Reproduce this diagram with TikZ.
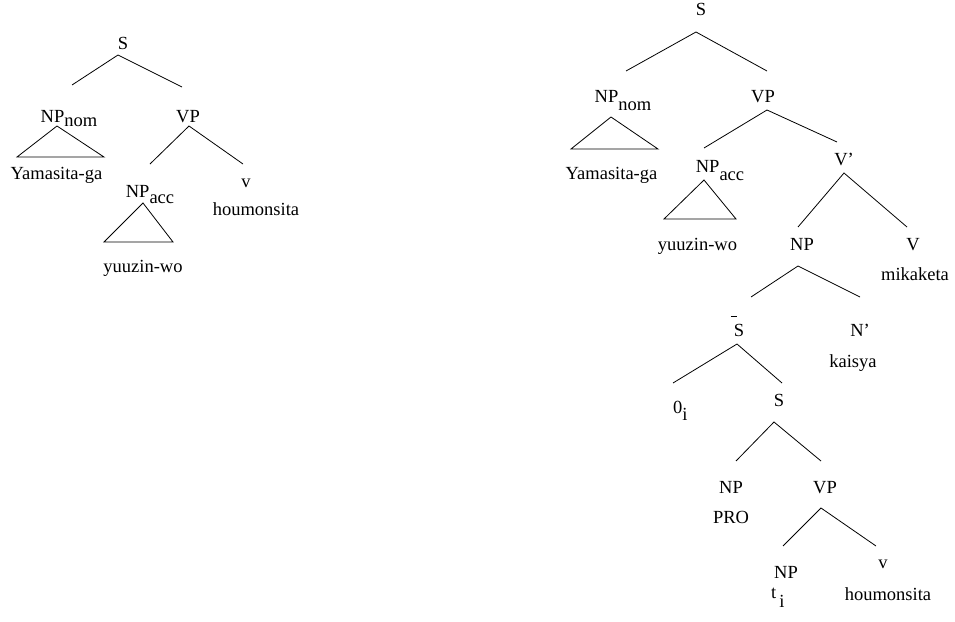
\documentclass[tikz,border=0pt]{standalone}
\usepackage{fontspec}
\setmainfont{Liberation Serif}
\newcommand{\mysub}[2]{\raisebox{-#1pt}{#2}}
\tikzset{
  lab/.style={inner sep=0pt, anchor=base, font=\fontsize{18.5}{22}\selectfont},
  br/.style={line width=0.8pt},
  tri/.style={line width=0.8pt, line join=miter}
}
\begin{document}
\begin{tikzpicture}[x=1pt,y=-1pt]
\useasboundingbox (0,0) rectangle (955,621);
% ---------------- left tree ----------------
\node[lab] (lS) at (123,49) {S};
\coordinate (lSa) at (118,55);
\coordinate (lSl) at (72,85);
\coordinate (lSr) at (182,87);
\draw[br] (lSl) -- (lSa) -- (lSr);
\node[lab] (lNPn) at (69,122) {NP\mysub{4}{nom}};
\draw[tri] (57,126) -- (17,157) -- (104,157) -- cycle;
\node[lab] (lYam) at (56.5,179) {Yamasita-ga};
\node[lab] (lVP) at (188,122) {VP};
\coordinate (lVPa) at (189,126);
\coordinate (lVPl) at (150,164);
\coordinate (lVPr) at (243,164);
\draw[br] (lVPl) -- (lVPa) -- (lVPr);
\node[lab] (lNPa) at (150,197) {NP\mysub{6}{acc}};
\draw[tri] (143,203) -- (104,242) -- (173,242) -- cycle;
\node[lab] (lyuu) at (143,272) {yuuzin-wo};
\node[lab] (lv) at (246,187) {v};
\node[lab] (lhou) at (256,215) {houmonsita};
% ---------------- right tree ----------------
\node[lab] (rS) at (701,16) {S};
\coordinate (rSa) at (696,32);
\coordinate (rSl) at (626,71);
\coordinate (rSr) at (767,71);
\draw[br] (rSl) -- (rSa) -- (rSr);
\node[lab] (rNPn) at (623,102) {NP\mysub{8}{nom}};
\draw[tri] (611,117) -- (571,149) -- (658,149) -- cycle;
\node[lab] (rYam) at (611.5,179) {Yamasita-ga};
\node[lab] (rVP) at (763,102) {VP};
\coordinate (rVPa) at (767,110);
\coordinate (rVPl) at (704,148);
\coordinate (rVPr) at (837,142);
\draw[br] (rVPl) -- (rVPa) -- (rVPr);
\node[lab] (rNPa) at (720,172) {NP\mysub{8}{acc}};
\draw[tri] (704,180) -- (664,219) -- (736,219) -- cycle;
\node[lab] (ryuu) at (697.5,250) {yuuzin-wo};
\node[lab] (rVb) at (844,165) {V'};
\coordinate (rVba) at (844,173);
\coordinate (rVbl) at (798,227);
\coordinate (rVbr) at (907,227);
\draw[br] (rVbl) -- (rVba) -- (rVbr);
\node[lab] (rNP) at (802,250) {NP};
\node[lab] (rV) at (913,250) {V};
\node[lab] (rmik) at (915,280) {mikaketa};
\coordinate (rNPa2) at (798,266);
\coordinate (rNPl) at (751,297);
\coordinate (rNPr) at (860,297);
\draw[br] (rNPl) -- (rNPa2) -- (rNPr);
\node[lab] (rSbar) at (739,336) {\makebox[0pt][c]{\raisebox{19pt}{\rule{6pt}{0.7pt}}}S};
\node[lab] (rNb) at (860,336) {N'};
\node[lab] (rkai) at (853,367) {kaisya};
\coordinate (rSba) at (737,344);
\coordinate (rSbl) at (673,383);
\coordinate (rSbr) at (782,383);
\draw[br] (rSbl) -- (rSba) -- (rSbr);
\node[lab, anchor=base west] (rzero) at (673,413) {0\mysub{7}{i}};
\node[lab] (rS2) at (779,406) {S};
\coordinate (rS2a) at (774,422);
\coordinate (rS2l) at (736,461);
\coordinate (rS2r) at (821,461);
\draw[br] (rS2l) -- (rS2a) -- (rS2r);
\node[lab] (rNP2) at (731,493) {NP};
\node[lab] (rPRO) at (731,523) {PRO};
\node[lab] (rVP2) at (825,493) {VP};
\coordinate (rVP2a) at (821,508);
\coordinate (rVP2l) at (783,546);
\coordinate (rVP2r) at (876,546);
\draw[br] (rVP2l) -- (rVP2a) -- (rVP2r);
\node[lab] (rNP3) at (786,578) {NP};
\node[lab, anchor=base west] (rt) at (771,598) {t\,\mysub{9}{i}};
\node[lab] (rv) at (883,568) {v};
\node[lab] (rhou) at (888,600) {houmonsita};
\end{tikzpicture}
\end{document}
